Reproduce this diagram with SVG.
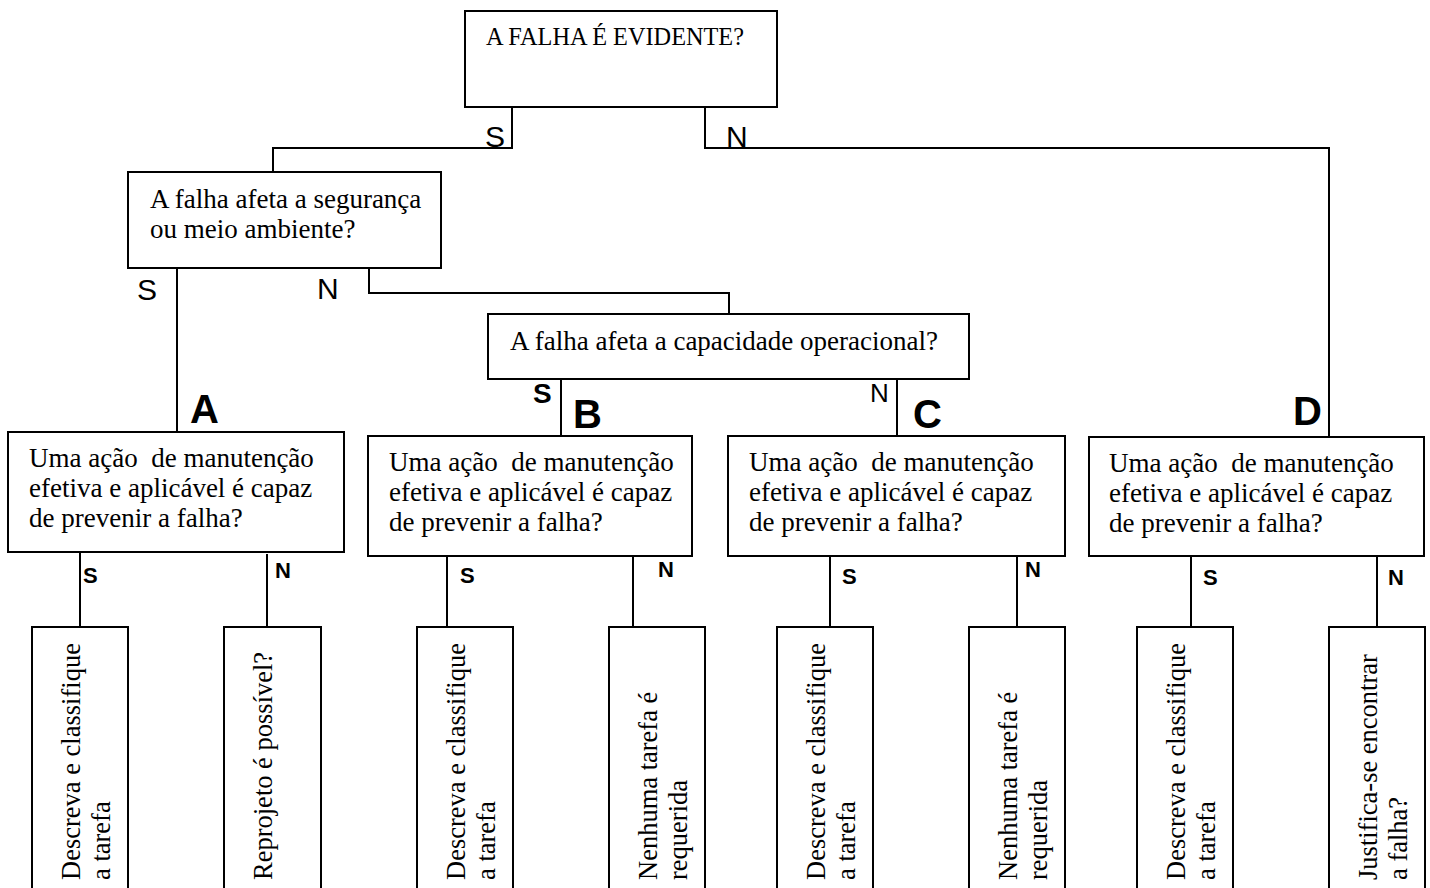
<svg xmlns="http://www.w3.org/2000/svg" width="1430" height="888" viewBox="0 0 1430 888">
<style>
.box{fill:#fff;stroke:#000;stroke-width:2}
.ln{fill:none;stroke:#000;stroke-width:2}
.t{font-family:"Liberation Serif","Times New Roman",serif;font-size:27px;fill:#000}
.r{font-family:"Liberation Serif","Times New Roman",serif;font-size:26.5px;fill:#000}
.tt{font-family:"Liberation Serif","Times New Roman",serif;font-size:24.3px;fill:#000}
.lb{font-family:"Liberation Sans",Arial,sans-serif;fill:#000}
.big{font-size:30px}
.mid{font-size:26px}
.sb{font-size:28px;font-weight:bold}
.let{font-size:40px;font-weight:bold}
.sm{font-size:22px;font-weight:bold}
</style>
<rect width="1430" height="888" fill="#fff"/>
<g id="connectors">
<path class="ln" d="M512,107 V148 H273 V172"/>
<path class="ln" d="M705,107 V148 H1329 V437"/>
<path class="ln" d="M177,268 V432"/>
<path class="ln" d="M369,268 V293 H729 V314"/>
<path class="ln" d="M561,379 V436"/>
<path class="ln" d="M897,379 V438"/>
<path class="ln" d="M80,552 V627 M267,554 V627"/>
<path class="ln" d="M447,556 V627 M633,556 V627"/>
<path class="ln" d="M830,556 V627 M1017,556 V627"/>
<path class="ln" d="M1191,556 V627 M1377,556 V627"/>
</g>
<g id="labels">
<text class="lb big" x="485" y="147">S</text>
<text class="lb big" x="726" y="147">N</text>
<text class="lb big" x="137" y="300">S</text>
<text class="lb big" x="317" y="299">N</text>
<text class="lb sb" x="533" y="403">S</text>
<text class="lb mid" x="870" y="402">N</text>
<text class="lb let" x="190" y="423">A</text>
<text class="lb let" x="573" y="428">B</text>
<text class="lb let" x="913" y="428">C</text>
<text class="lb let" x="1293" y="425">D</text>
<text class="lb sm" x="83" y="583">S</text>
<text class="lb sm" x="275" y="578">N</text>
<text class="lb sm" x="460" y="583">S</text>
<text class="lb sm" x="658" y="577">N</text>
<text class="lb sm" x="842" y="584">S</text>
<text class="lb sm" x="1025" y="577">N</text>
<text class="lb sm" x="1203" y="585">S</text>
<text class="lb sm" x="1388" y="585">N</text>
</g>
<g id="n-evidente">
<rect class="box" x="465" y="11" width="312" height="96"/>
<text class="tt" x="486" y="45">A FALHA É EVIDENTE?</text>
</g>
<g id="n-seguranca">
<rect class="box" x="128" y="172" width="313" height="96"/>
<text class="t" x="150" y="208">A falha afeta a segurança</text>
<text class="t" x="150" y="238">ou meio ambiente?</text>
</g>
<g id="n-capacidade">
<rect class="box" x="488" y="314" width="481" height="65"/>
<text class="t" x="510" y="350">A falha afeta a capacidade operacional?</text>
</g>
<g id="n-acaoA">
<rect class="box" x="8" y="432" width="336" height="120"/>
<text class="t" x="29" y="467" xml:space="preserve">Uma ação  de manutenção</text>
<text class="t" x="29" y="497">efetiva e aplicável é capaz</text>
<text class="t" x="29" y="527">de prevenir a falha?</text>
</g>
<g id="n-acaoB">
<rect class="box" x="368" y="436" width="324" height="120"/>
<text class="t" x="389" y="471" xml:space="preserve">Uma ação  de manutenção</text>
<text class="t" x="389" y="501">efetiva e aplicável é capaz</text>
<text class="t" x="389" y="531">de prevenir a falha?</text>
</g>
<g id="n-acaoC">
<rect class="box" x="728" y="436" width="337" height="120"/>
<text class="t" x="749" y="471" xml:space="preserve">Uma ação  de manutenção</text>
<text class="t" x="749" y="501">efetiva e aplicável é capaz</text>
<text class="t" x="749" y="531">de prevenir a falha?</text>
</g>
<g id="n-acaoD">
<rect class="box" x="1089" y="437" width="335" height="119"/>
<text class="t" x="1109" y="472" xml:space="preserve">Uma ação  de manutenção</text>
<text class="t" x="1109" y="502">efetiva e aplicável é capaz</text>
<text class="t" x="1109" y="532">de prevenir a falha?</text>
</g>
<g id="n-A-S">
<rect class="box" x="32" y="627" width="96" height="280"/>
<text class="r" transform="translate(80,880) rotate(-90)"><tspan x="0" y="0">Descreva e classifique</tspan><tspan x="0" y="30">a tarefa</tspan></text>
</g>
<g id="n-A-N">
<rect class="box" x="224" y="627" width="97" height="280"/>
<text class="r" transform="translate(272,880) rotate(-90)"><tspan x="0" y="0">Reprojeto é possível?</tspan></text>
</g>
<g id="n-B-S">
<rect class="box" x="417" y="627" width="96" height="280"/>
<text class="r" transform="translate(465,880) rotate(-90)"><tspan x="0" y="0">Descreva e classifique</tspan><tspan x="0" y="30">a tarefa</tspan></text>
</g>
<g id="n-B-N">
<rect class="box" x="609" y="627" width="96" height="280"/>
<text class="r" transform="translate(657,880) rotate(-90)"><tspan x="0" y="0">Nenhuma tarefa é</tspan><tspan x="0" y="30">requerida</tspan></text>
</g>
<g id="n-C-S">
<rect class="box" x="777" y="627" width="96" height="280"/>
<text class="r" transform="translate(825,880) rotate(-90)"><tspan x="0" y="0">Descreva e classifique</tspan><tspan x="0" y="30">a tarefa</tspan></text>
</g>
<g id="n-C-N">
<rect class="box" x="969" y="627" width="96" height="280"/>
<text class="r" transform="translate(1017,880) rotate(-90)"><tspan x="0" y="0">Nenhuma tarefa é</tspan><tspan x="0" y="30">requerida</tspan></text>
</g>
<g id="n-D-S">
<rect class="box" x="1137" y="627" width="96" height="280"/>
<text class="r" transform="translate(1185,880) rotate(-90)"><tspan x="0" y="0">Descreva e classifique</tspan><tspan x="0" y="30">a tarefa</tspan></text>
</g>
<g id="n-D-N">
<rect class="box" x="1329" y="627" width="96" height="280"/>
<text class="r" transform="translate(1377,880) rotate(-90)"><tspan x="0" y="0">Justifica-se encontrar</tspan><tspan x="0" y="30">a falha?</tspan></text>
</g>
</svg>
